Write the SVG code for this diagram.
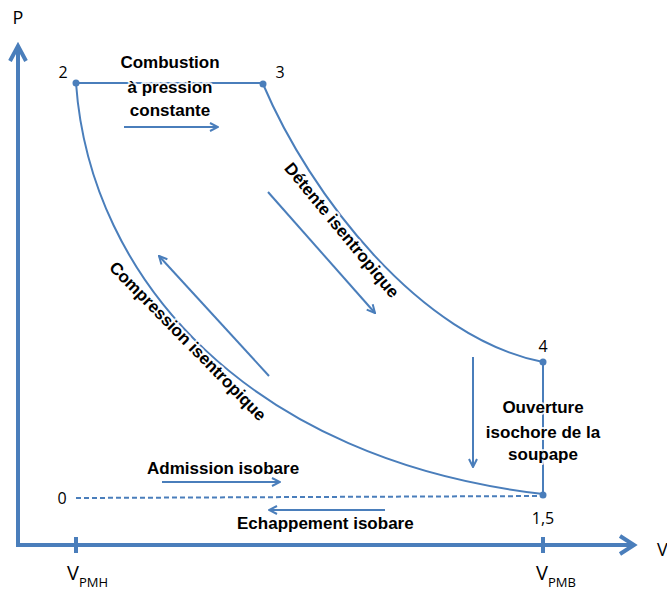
<svg xmlns="http://www.w3.org/2000/svg" width="667" height="594" viewBox="0 0 667 594">
<style>
.ax{stroke:#4a7ebb;stroke-width:4;fill:none}
.cy{stroke:#4a7ebb;stroke-width:2;fill:none}
.ar{stroke:#4a7ebb;stroke-width:2;fill:none;marker-end:url(#ah)}
.num{font-family:"Open Sans","Liberation Sans",sans-serif;font-size:16px;fill:#000}
.lbl{font-family:"Liberation Sans",Arial,sans-serif;font-weight:bold;font-size:17px;fill:#000;stroke:#fff;stroke-width:4;stroke-opacity:0.85;stroke-linejoin:round;paint-order:stroke}
.dot{fill:#4a7ebb}
</style>
<defs>
<marker id="ah" viewBox="0 0 10 10" refX="9" refY="5" markerWidth="5" markerHeight="5" orient="auto" markerUnits="strokeWidth">
<path d="M1,1 L9,5 L1,9" fill="none" stroke="#4a7ebb" stroke-width="2"/>
</marker>
</defs>
<rect width="667" height="594" fill="#fff"/>
<g id="axes">
<path class="ax" d="M18,547 V47 M16,545 H632"/>
<path class="ax" d="M10,61 L18,46 L26,61 M620,536 L634,545 L620,554"/>
<path class="ax" d="M76,537 V553 M543,537 V553"/>
<text x="18" y="24" text-anchor="middle" font-family="Open Sans, Liberation Sans, sans-serif" font-size="18">P</text>
<text x="657" y="556" font-family="Open Sans, Liberation Sans, sans-serif" font-size="18">V</text>
<text x="67" y="580" font-family="Open Sans, Liberation Sans, sans-serif" font-size="20">V<tspan font-size="13" dy="7">PMH</tspan></text>
<text x="536" y="580" font-family="Open Sans, Liberation Sans, sans-serif" font-size="20">V<tspan font-size="13" dy="7">PMB</tspan></text>
</g>
<g id="connectors">
<path id="comb" class="cy" d="M76,83 H263"/>
<path id="detente" class="cy" d="M263,84 C310,195 420,338 543,362"/>
<path id="ouverture" class="cy" d="M543,362 V494"/>
<path id="compression" class="cy" d="M76,83 C90,280 250,460 543,494"/>
<path id="isobare" class="cy" d="M76,498 L543,496" stroke-dasharray="5,3"/>
<path class="ar" d="M124,127 H218"/>
<path class="ar" d="M268,192 L375,313"/>
<path class="ar" d="M269,376 L159,256"/>
<path class="ar" d="M473,357 V467"/>
<path class="ar" d="M162,482 H280"/>
<path class="ar" d="M385,510 H269"/>
</g>
<g id="n2"><circle class="dot" cx="76" cy="83" r="3.5"/><text class="num" x="63" y="78" text-anchor="middle">2</text></g>
<g id="n3"><circle class="dot" cx="263" cy="84" r="3.5"/><text class="num" x="280" y="78" text-anchor="middle">3</text></g>
<g id="n4"><circle class="dot" cx="543" cy="362" r="3.5"/><text class="num" x="543" y="352" text-anchor="middle">4</text></g>
<g id="n15"><circle class="dot" cx="543" cy="495" r="3.5"/><text class="num" x="543" y="524" text-anchor="middle">1,5</text></g>
<g id="n0"><text class="num" x="62" y="504" text-anchor="middle">0</text></g>
<g id="l-comb"><text class="lbl" text-anchor="middle" x="170"><tspan x="170" y="68">Combustion</tspan><tspan x="170" y="93">à pression</tspan><tspan x="170" y="116">constante</tspan></text></g>
<g id="l-det"><text class="lbl" text-anchor="middle" transform="translate(342,230) rotate(50.5)" x="0" y="6">Détente isentropique</text></g>
<g id="l-comp"><text class="lbl" text-anchor="middle" transform="translate(188,341) rotate(45.5)" x="0" y="6">Compression isentropique</text></g>
<g id="l-ouv"><text class="lbl" text-anchor="middle"><tspan x="543" y="413">Ouverture</tspan><tspan x="543" y="438">isochore de la</tspan><tspan x="543" y="460">soupape</tspan></text></g>
<g id="l-adm"><text class="lbl" x="147" y="474">Admission isobare</text></g>
<g id="l-ech"><text class="lbl" x="237" y="529">Echappement isobare</text></g>
</svg>
